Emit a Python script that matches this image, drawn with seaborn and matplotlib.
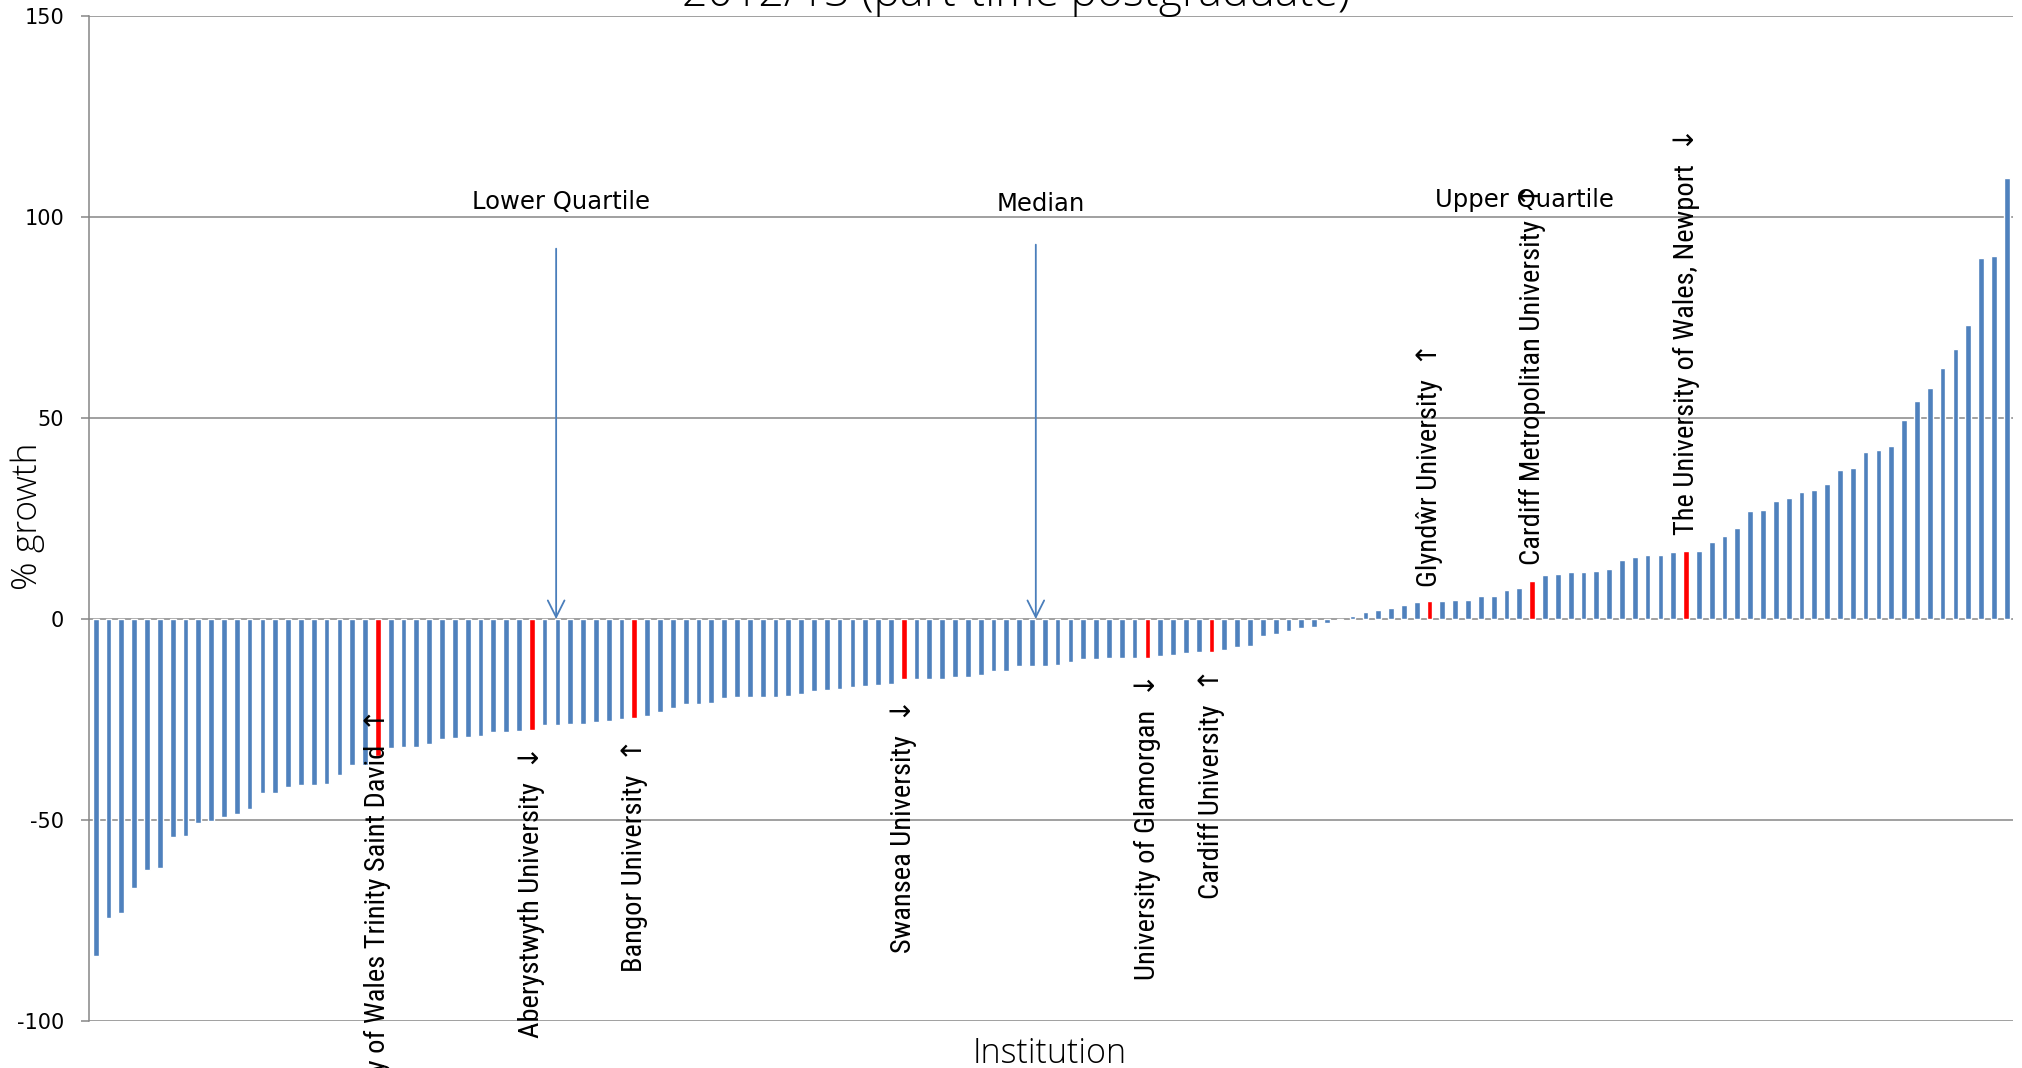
import numpy as np
import pandas as pd
import matplotlib
matplotlib.use("Agg")
import matplotlib.pyplot as plt
from matplotlib import font_manager as fm
import seaborn as sns

# ---------------- data ----------------
growth = [
    -83.9, -74.5, -73.2, -66.8, -62.4, -61.9, -54.2, -54.0, -50.7, -50.3,
    -49.2, -48.4, -47.2, -43.3, -43.2, -41.9, -41.3, -41.3, -41.0, -38.9,
    -36.4, -36.2, -34.0, -32.1, -31.9, -31.8, -31.1, -29.8, -29.6, -29.3,
    -29.0, -28.1, -28.1, -27.9, -27.5, -26.4, -26.3, -26.1, -26.0, -25.5,
    -25.4, -24.9, -24.6, -24.0, -23.1, -22.1, -21.2, -21.2, -20.9, -19.7,
    -19.5, -19.5, -19.5, -19.4, -19.1, -18.7, -17.8, -17.6, -17.5, -16.8,
    -16.6, -16.4, -16.2, -15.0, -15.0, -14.9, -14.8, -14.5, -14.5, -13.8,
    -12.9, -12.8, -11.7, -11.7, -11.6, -11.5, -10.6, -9.9, -9.9, -9.8,
    -9.7, -9.7, -9.7, -9.3, -9.0, -8.5, -8.3, -8.1, -7.7, -7.0,
    -6.6, -4.2, -3.8, -3.0, -2.2, -1.9, -1.0, -0.3, 0.9, 1.7,
    2.2, 2.7, 3.5, 4.2, 4.5, 4.5, 4.7, 4.8, 5.7, 5.8,
    7.2, 7.7, 9.5, 10.9, 11.2, 11.7, 11.8, 11.9, 12.4, 14.6,
    15.4, 15.9, 15.9, 16.8, 16.9, 16.9, 19.2, 20.8, 22.6, 26.8,
    27.1, 29.5, 30.1, 31.6, 32.1, 33.7, 37.2, 37.5, 41.7, 42.0,
    43.1, 49.5, 54.4, 57.6, 62.5, 67.2, 73.1, 90.0, 90.5, 109.8,
]
ranks = list(range(1, len(growth) + 1))

welsh_ranks = [23, 35, 43, 64, 83, 88, 105, 113, 125]
welsh_names = [
    "University of Wales Trinity Saint David",
    "Aberystwyth University",
    "Bangor University",
    "Swansea University",
    "University of Glamorgan",
    "Cardiff University",
    "Glyndŵr University",
    "Cardiff Metropolitan University",
    "The University of Wales, Newport",
]
welsh_arrows = ["↑", "↓", "↑", "↓", "↓", "↑", "↑", "↑", "↓"]

stat_labels = ["Lower Quartile", "Median", "Upper Quartile"]

# ---------------- layout / style constants ----------------
label_anchor_y = [-22.1, -31.3, -29.6, -19.6, -13.4, -12.1, 8.0, 13.5, 21.0]
stat_text_xy = [(36.3, 103.9), (73.7, 103.4), (111.4, 104.2)]
stat_arrows = [(35.9, 92.2), (73.3, 93.2), None]

BLUE = "#4F81BD"
RED = "#FF0000"
GRID = "#868686"
ARROW = "#4A7EBB"

df = pd.DataFrame({
    "rank": ranks,
    "growth": growth,
    "group": ["Wales" if r in welsh_ranks else "Other" for r in ranks],
})

sns.set_style("white")

names = {f.name for f in fm.fontManager.ttflist}
narrow = None
for cand in ["Liberation Sans Narrow", "Roboto Condensed", "Open Sans Condensed",
             "Noto Sans Condensed", "DejaVu Sans Condensed"]:
    if cand in names:
        narrow = cand
        break
has_dejavu_cond = any(f.name == "DejaVu Sans" and "condensed" in str(f.stretch)
                      for f in fm.fontManager.ttflist)
if narrow is not None:
    label_font = dict(family=[narrow, "DejaVu Sans"], fontsize=20.5)
elif has_dejavu_cond:
    label_font = dict(family=["DejaVu Sans"], fontstretch="condensed", fontsize=19.5)
else:
    label_font = dict(family=["DejaVu Sans"], fontsize=16)


def light_family():
    for fam in ["Open Sans", "Lato", "Roboto", "Noto Sans", "Inter"]:
        for f in fm.fontManager.ttflist:
            if f.name == fam:
                w = f.weight
                if isinstance(w, str):
                    w = fm.weight_dict.get(w, 400)
                if w <= 300:
                    return fam
    return "DejaVu Sans"


light = light_family()
plt.rcParams["font.family"] = ["DejaVu Sans"]
plt.rcParams["axes.unicode_minus"] = False

fig = plt.figure(figsize=(20.22, 10.68), dpi=100)
ax = fig.add_axes([0.04416, 0.0441, 0.95144, 0.9405])

sns.barplot(
    data=df, x="rank", y="growth", hue="group",
    hue_order=["Other", "Wales"],
    palette={"Other": BLUE, "Wales": RED},
    dodge=False, width=0.45, saturation=1, legend=False, ax=ax,
)

ax.set_xlim(-0.5, len(growth) - 0.5)
ax.set_ylim(-100, 150)
ax.set_yticks(range(-100, 151, 50))
ax.set_xticks([])
ax.set_xlabel("")
ax.set_ylabel("")
ax.yaxis.grid(True, color=GRID, linewidth=1.1)
ax.xaxis.grid(False)
ax.set_axisbelow(True)
for side in ["top", "right", "bottom"]:
    ax.spines[side].set_visible(False)
ax.spines["left"].set_color(GRID)
ax.spines["left"].set_linewidth(1.1)
ax.tick_params(axis="y", left=True, length=6, width=1.1, color=GRID,
               pad=12, labelsize=15, labelcolor="black", direction="out")

# statistic annotations
for lab, (tx, ty), arr in zip(stat_labels, stat_text_xy, stat_arrows):
    ax.text(tx, ty, lab, ha="center", va="center", fontsize=17.5,
            color="black", family="DejaVu Sans")
    if arr is not None:
        ax.annotate("", xy=(arr[0], 0), xytext=(arr[0], arr[1]),
                    arrowprops=dict(arrowstyle="->", color=ARROW, lw=1.3,
                                    mutation_scale=30, shrinkA=0, shrinkB=0))

# Welsh institution labels
for r, name, arw, ay in zip(welsh_ranks, welsh_names, welsh_arrows, label_anchor_y):
    ax.text(r - 1, ay, f"{name}  {arw}", rotation=90, ha="center",
            va="top" if ay < 0 else "bottom", color="black", clip_on=False,
            **label_font)

# titles and axis labels
fig.text(1016 / 2022, 1 - 6 / 1068, "2012/13 (part-time postgraduate)",
         ha="center", va="baseline", fontsize=32, family=[light, "DejaVu Sans"],
         fontweight="light", color="black")
fig.text(28 / 2022, 1 - 516 / 1068, "% growth", rotation=90, ha="center",
         va="center", fontsize=25.5, family=[light, "DejaVu Sans"],
         fontweight="light", color="black")
fig.text(1050 / 2022, 1 - 1054 / 1068, "Institution", ha="center",
         va="center", fontsize=24.5, family=[light, "DejaVu Sans"],
         fontweight="light", color="black")

fig.savefig("out.png", dpi=100, facecolor="white")
